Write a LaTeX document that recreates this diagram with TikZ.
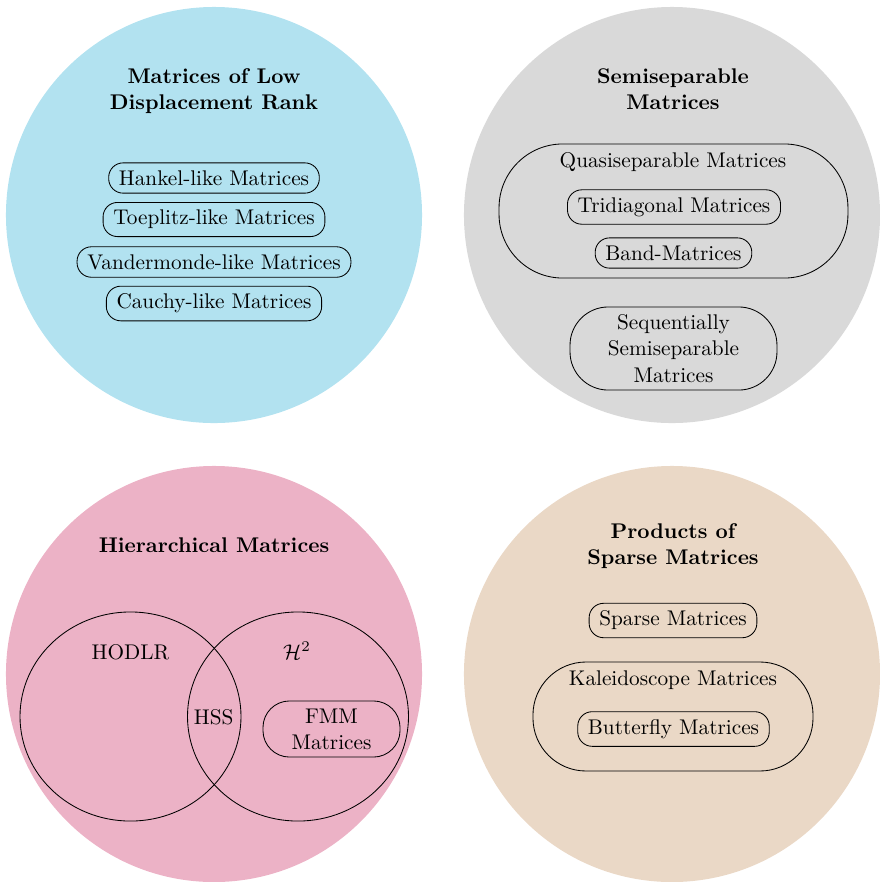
\documentclass[tikz,border=0pt]{standalone}
\usetikzlibrary{shapes.geometric}
\definecolor{cblue}{RGB}{178,226,240}
\definecolor{cgray}{RGB}{217,217,217}
\definecolor{cpink}{RGB}{236,178,198}
\definecolor{cbeige}{RGB}{234,216,198}
\begin{document}
\begin{tikzpicture}[x=0.4706pt, y=-0.4706pt,
  every node/.style={font=\fontsize{10}{12.5}\selectfont, text=black},
  region/.style={circle, inner sep=0pt, minimum size=195.8pt},
  pill/.style={draw, rounded corners=6.8pt, inner xsep=4.8pt, inner ysep=3.6pt},
  bigpill/.style={draw, inner sep=0pt, align=center},
  titletext/.style={font=\fontsize{10}{12.5}\selectfont\bfseries, align=center, inner sep=0pt},
  lbl/.style={anchor=base, inner sep=0pt},
  venn/.style={draw, ellipse, minimum width=104pt, minimum height=98.4pt, inner sep=0pt}]
\useasboundingbox (0,0) rectangle (880,882);
% regions
\node[region, fill=cblue]  (c1) at (214,215) {};
\node[region, fill=cgray]  (c2) at (672,215) {};
\node[region, fill=cpink]  (c3) at (214,674) {};
\node[region, fill=cbeige] (c4) at (672,674) {};
% low displacement rank
\node[titletext] (t1) at (214,91) {Matrices of Low\\Displacement Rank};
\node[pill] (hankel)   at (214,178)   {Hankel-like Matrices};
\node[pill] (toeplitz) at (214,219.5) {Toeplitz-like Matrices};
\node[pill] (vander)   at (214,262)   {Vandermonde-like Matrices};
\node[pill] (cauchy)   at (214,303.5) {Cauchy-like Matrices};
% semiseparable
\node[titletext] (t2) at (673,89) {Semiseparable\\Matrices};
\node[bigpill, rounded corners=30pt, minimum width=164.2pt, minimum height=63.1pt] (quasi) at (673.5,211) {};
\node[lbl] (quasil) at (673,167) {Quasiseparable Matrices};
\node[pill] (tri)  at (674,207)   {Tridiagonal Matrices};
\node[pill] (band) at (673.5,253) {Band-Matrices};
\node[bigpill, rounded corners=18pt, minimum width=97.4pt, minimum height=39.1pt] (seq) at (673.5,348.5) {Sequentially\\Semiseparable\\Matrices};
% hierarchical
\node[titletext, anchor=base] (t3) at (214,552) {Hierarchical Matrices};
\node[venn] (hodlr) at (130.5,716.5) {};
\node[venn] (htwo)  at (298,716.5) {};
\node[lbl] (hodlrl) at (130.5,659) {HODLR};
\node[lbl] (htwol)  at (297,659)   {$\mathcal{H}^2$};
\node[lbl] (hss)    at (213.7,724) {HSS};
\node[bigpill, rounded corners=12.5pt, minimum width=64.5pt, minimum height=26.4pt, font=\fontsize{10}{12.2}\selectfont] (fmm) at (331.5,729) {FMM\\Matrices};
% products of sparse
\node[titletext] (t4) at (673,546.2) {Products of\\Sparse Matrices};
\node[pill] (sparse) at (673,620.5) {Sparse Matrices};
\node[bigpill, rounded corners=25pt, minimum width=131.8pt, minimum height=51.3pt] (kal) at (673,716.5) {};
\node[lbl] (kall) at (673,685) {Kaleidoscope Matrices};
\node[pill] (butterfly) at (673.5,729) {Butterfly Matrices};
\end{tikzpicture}
\end{document}
